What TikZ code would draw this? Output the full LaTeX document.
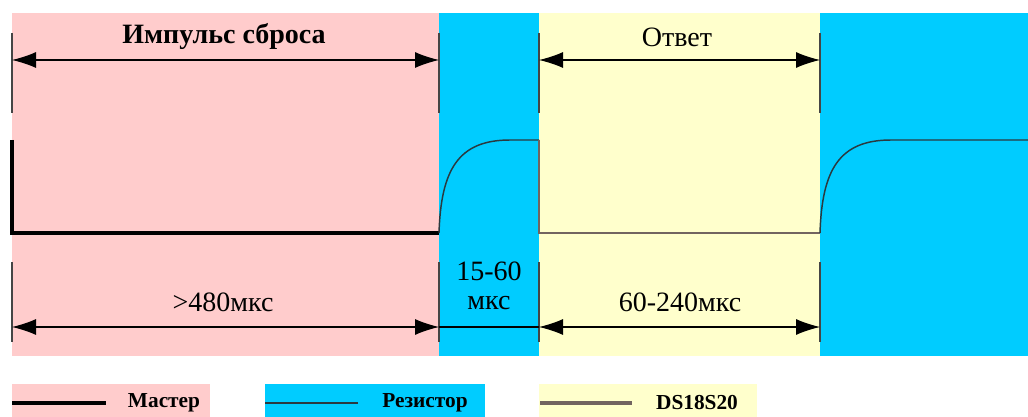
\documentclass[tikz,border=0pt]{standalone}
\usepackage{fontspec}
\setmainfont{Liberation Serif}
\usetikzlibrary{arrows.meta}
\definecolor{pinkbg}{HTML}{FFCCCC}
\definecolor{bluebg}{HTML}{00CCFF}
\definecolor{yellowbg}{HTML}{FFFFCC}
\definecolor{dsline}{HTML}{726460}
\definecolor{resline}{HTML}{2A3A40}
\definecolor{tickcol}{HTML}{454545}
\tikzset{
  tickline/.style={draw=tickcol, line width=2pt},
  dimline/.style={draw=black, line width=0.8pt, {Latex[length=18pt,width=12pt]}-{Latex[length=18pt,width=12pt]}},
  plainline/.style={draw=black, line width=0.8pt},
  masterline/.style={draw=black, line width=2.4pt},
  resline/.style={draw=resline, line width=1.1pt},
  dsline/.style={draw=dsline, line width=2.2pt},
  biglbl/.style={font=\fontsize{21}{24}\selectfont, inner sep=0pt},
  leglbl/.style={font=\fontsize{16}{18}\selectfont\bfseries, inner sep=0pt},
}
\begin{document}
\begin{tikzpicture}[x=0.75pt,y=-0.75pt]
\useasboundingbox (0,0) rectangle (1028,417);
\fill[white] (0,0) rectangle (1028,417);
% background zones
\fill[pinkbg] (12,13) rectangle (439,356);
\fill[bluebg] (439,13) rectangle (539,356);
\fill[yellowbg] (539,13) rectangle (820,356);
\fill[bluebg] (820,13) rectangle (1028,356);
% ticks
\foreach \x in {12,439,539,820}{
  \draw[tickline] (\x,33) -- (\x,113);
  \draw[tickline] (\x,262) -- (\x,342);
}
% dimension coordinates
\coordinate (t0) at (12,60);
\coordinate (t1) at (439,60);
\coordinate (t2) at (539,60);
\coordinate (t3) at (820,60);
\coordinate (b0) at (12,327);
\coordinate (b1) at (439,327);
\coordinate (b2) at (539,327);
\coordinate (b3) at (820,327);
\draw[dimline] (t0) -- (t1);
\draw[dimline] (t2) -- (t3);
\draw[dimline] (b0) -- (b1);
\draw[plainline] (b1) -- (b2);
\draw[dimline] (b2) -- (b3);
% labels
\node[biglbl, font=\fontsize{21}{24}\selectfont\bfseries] (title1) at (224,37) {Импульс сброса};
\node[biglbl] (title2) at (677,37) {Ответ};
\node[biglbl] (d1) at (223,302) {>480мкс};
\node[biglbl] (d2a) at (489,271) {15-60};
\node[biglbl] (d2b) at (489,303) {мкс};
\node[biglbl] (d3) at (680,302) {60-240мкс};
% signals
\coordinate (m0) at (12,140);
\coordinate (m1) at (12,233);
\coordinate (m2) at (439,233);
\coordinate (r1) at (510,140);
\coordinate (r2) at (539,140);
\coordinate (s1) at (539,233);
\coordinate (s2) at (820,233);
\coordinate (r3) at (891,140);
\coordinate (r4) at (1028,140);
\draw[masterline] (m0) -- (m1) -- (m2);
\draw[resline] (m2) .. controls (441,170) and (458,140) .. (r1) -- (r2);
\draw[dsline] (r2) -- (s1) -- (s2);
\draw[resline] (s2) .. controls (822,170) and (839,140) .. (r3) -- (r4);
% legend
\fill[pinkbg] (12,384) rectangle (210,417);
\fill[bluebg] (265,384) rectangle (485,417);
\fill[yellowbg] (539,384) rectangle (757,417);
\coordinate (la0) at (12,403);
\coordinate (la1) at (106,403);
\coordinate (lb0) at (265,403);
\coordinate (lb1) at (358,403);
\coordinate (lc0) at (540,403);
\coordinate (lc1) at (632,403);
\draw[masterline] (la0) -- (la1);
\draw[resline, line width=1.4pt] (lb0) -- (lb1);
\draw[dsline, line width=2.6pt] (lc0) -- (lc1);
\node[leglbl] (leg1) at (164,403) {Мастер};
\node[leglbl] (leg2) at (425,403) {Резистор};
\node[leglbl] (leg3) at (697,403) {DS18S20};
\end{tikzpicture}
\end{document}
